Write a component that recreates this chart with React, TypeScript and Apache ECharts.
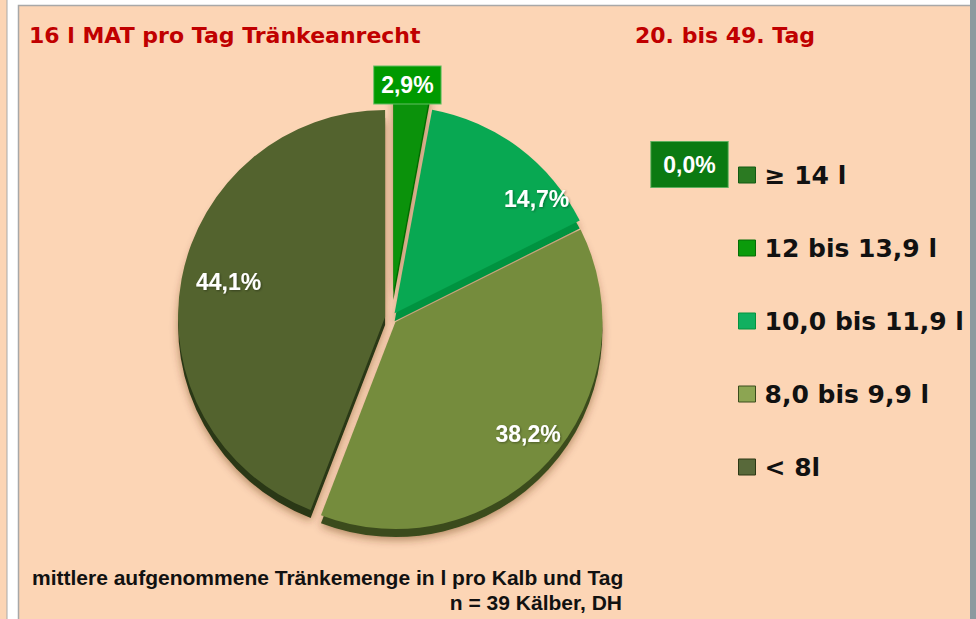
import React, { useEffect, useRef } from "react";
import * as echarts from "echarts";

// ---- data ----
const categories = ["≥ 14 l", "12 bis 13,9 l", "10,0 bis 11,9 l", "8,0 bis 9,9 l", "< 8l"];
const shares = [0.0, 2.9, 14.7, 38.2, 44.1];
const pulledOut = "12 bis 13,9 l";
const titleLeft = "16 l MAT pro Tag Tränkeanrecht";
const titleRight = "20. bis 49. Tag";
const footnoteLines = [
  "mittlere aufgenommene Tränkemenge in l pro Kalb und Tag",
  "n = 39 Kälber, DH",
];

// ---- styles ----
const faceColors = ["#1E7F1E", "#0B920B", "#08A852", "#758C3D", "#53632E"];
const edgeColors = ["#135A13", "#066C06", "#04933F", "#3A4C1C", "#2C3814"];
const legendColors = ["#2B7A22", "#0B9B0B", "#11B060", "#8CA552", "#58693A"];
// small label nudges (pixels) per slice, styling only
const labelNudges: [number, number][] = [[0, 0], [-5, 1], [36, 27], [2, -7], [17, -3]];
const PEACH = "#FCD5B5";
const CX = 391;
const CY = 318;
const R = 207;
const DEPTH = 8;
const OFFSET = 6;
const PULL_OFFSET = 26;

const fmt = (v: number) => v.toFixed(1).replace(".", ",") + "%";
const pulledIdx = categories.indexOf(pulledOut);
const TRANSPARENT = "rgba(0,0,0,0)";

function items(colors: string[] | null, keep: (i: number) => boolean, selected: boolean, extra?: (i: number) => any) {
  return categories.map((name, i) => ({
    name,
    value: shares[i],
    selected,
    itemStyle: {
      color: keep(i) && colors ? colors[i] : TRANSPARENT,
      borderWidth: 0,
    },
    ...(extra ? extra(i) : {}),
  }));
}

function basePie(extra: any) {
  return {
    type: "pie",
    center: [CX, CY],
    radius: R,
    startAngle: 90,
    clockwise: true,
    selectedMode: "multiple",
    silent: true,
    avoidLabelOverlap: false,
    minAngle: 0,
    label: { show: false },
    labelLine: { show: false },
    emphasis: { disabled: true },
    ...extra,
  };
}

const labelFont = {
  color: "#FFFFFF",
  fontFamily: "Liberation Sans, Arial, sans-serif",
  fontWeight: "bold",
  fontSize: 23,
};

const shadow = {
  shadowBlur: 8,
  shadowColor: "rgba(90,45,0,0.45)",
  shadowOffsetY: 3,
};

const nudge = (p: any) => ({ dx: labelNudges[p.dataIndex][0], dy: labelNudges[p.dataIndex][1] });

const series = [
  // depth (side) layer
  basePie({
    z: 1,
    center: [CX, CY + DEPTH],
    selectedOffset: OFFSET,
    itemStyle: shadow,
    data: items(edgeColors, (i) => i !== pulledIdx, true),
  }),
  basePie({
    z: 1,
    center: [CX, CY + DEPTH],
    selectedOffset: PULL_OFFSET,
    itemStyle: shadow,
    data: items(edgeColors, (i) => i === pulledIdx, true),
  }),
  // top faces
  basePie({
    z: 2,
    selectedOffset: OFFSET,
    data: items(faceColors, (i) => i !== pulledIdx, true),
  }),
  basePie({
    z: 2,
    selectedOffset: PULL_OFFSET,
    data: items(faceColors, (i) => i === pulledIdx, true),
  }),
  // inside percentage labels
  basePie({
    z: 3,
    radius: [140, R],
    selectedOffset: OFFSET,
    labelLayout: nudge,
    label: {
      show: true,
      position: "inside",
      formatter: (p: any) => fmt(p.value),
      ...labelFont,
      textShadowColor: "rgba(0,0,0,0.35)",
      textShadowBlur: 2,
      textShadowOffsetX: 1,
      textShadowOffsetY: 1,
    },
    data: items(null, () => false, true, (i) => ({
      label: { show: i !== pulledIdx && shares[i] > 0 },
    })),
  }),
  // boxed label of the pulled-out slice
  basePie({
    z: 3,
    radius: [R + 8, R + 42],
    selectedOffset: 0,
    labelLayout: nudge,
    label: {
      show: true,
      position: "inside",
      formatter: (p: any) => fmt(p.value),
      ...labelFont,
      backgroundColor: "#009A00",
      borderColor: "#63BD63",
      borderWidth: 1,
      padding: [8, 7, 6, 7],
    },
    data: items(null, () => false, false, (i) => ({
      label: { show: i === pulledIdx },
    })),
  }),
];

const option: any = {
  animation: false,
  backgroundColor: "#FFFFFF",
  legend: {
    orient: "vertical",
    left: 733,
    top: 155,
    itemWidth: 17,
    itemHeight: 16,
    itemGap: 43,
    icon: "rect",
    selectedMode: false,
    textStyle: {
      fontFamily: "DejaVu Sans, sans-serif",
      fontWeight: "bold",
      fontSize: 25,
      color: "#111111",
      lineHeight: 30,
      padding: [0, 0, 0, 4],
    },
    data: categories.map((name, i) => ({
      name,
      itemStyle: { color: legendColors[i], borderColor: edgeColors[i], borderWidth: 1 },
    })),
  },
  graphic: {
    elements: [
      { type: "rect", z: 0, shape: { x: 0, y: 0, width: 7, height: 619 }, style: { fill: PEACH } },
      { type: "line", z: 0, shape: { x1: 7, y1: 0, x2: 7, y2: 619 }, style: { stroke: "#A9A9A9", lineWidth: 1 } },
      {
        type: "rect",
        z: 0,
        shape: { x: 18.5, y: 5.5, width: 960, height: 630 },
        style: { fill: PEACH, stroke: "#A8A8A8", lineWidth: 1.5 },
      },
      { type: "rect", z: 0, shape: { x: 970, y: 0, width: 6, height: 619 }, style: { fill: "#8C999F" } },
      {
        type: "text",
        z: 10,
        style: {
          text: titleLeft,
          x: 29,
          y: 35,
          verticalAlign: "middle",
          fill: "#C00000",
          font: "bold 22px 'DejaVu Sans', sans-serif",
        },
      },
      {
        type: "text",
        z: 10,
        style: {
          text: titleRight,
          x: 635,
          y: 35,
          verticalAlign: "middle",
          fill: "#C00000",
          font: "bold 22px 'DejaVu Sans', sans-serif",
        },
      },
      {
        type: "text",
        z: 10,
        style: {
          text: fmt(shares[0]),
          x: 689.5,
          y: 164.5,
          align: "center",
          verticalAlign: "middle",
          fill: "#FFFFFF",
          font: "bold 23px 'Liberation Sans', Arial, sans-serif",
          backgroundColor: "#0B7A12",
          borderColor: "#5FAF5F",
          borderWidth: 1,
          padding: [11, 12, 11, 12],
        },
      },
      {
        type: "text",
        z: 10,
        style: {
          text: footnoteLines[0],
          x: 32,
          y: 577,
          verticalAlign: "middle",
          fill: "#111111",
          font: "bold 21px 'Liberation Sans', Arial, sans-serif",
        },
      },
      {
        type: "text",
        z: 10,
        style: {
          text: footnoteLines[1],
          x: 622,
          y: 602,
          align: "right",
          verticalAlign: "middle",
          fill: "#111111",
          font: "bold 21px 'Liberation Sans', Arial, sans-serif",
        },
      },
    ],
  },
  series,
};

export default function App() {
  const ref = useRef<HTMLDivElement>(null);
  useEffect(() => {
    if (!ref.current) return;
    const chart = echarts.init(ref.current, null, { renderer: "svg" });
    chart.setOption(option);
    return () => chart.dispose();
  }, []);
  return (
    <div
      ref={ref}
      style={{ position: "fixed", left: 0, top: 0, width: 976, height: 619 }}
    />
  );
}
